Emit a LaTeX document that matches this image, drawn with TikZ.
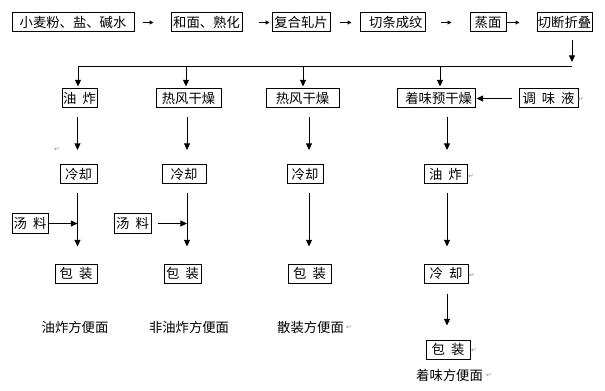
\documentclass[tikz,border=0pt]{standalone}
\usepackage{fontspec}
\newfontfamily\cjk{Noto Sans CJK SC}
\newfontfamily\dvs{DejaVu Sans}
\usetikzlibrary{arrows.meta}
\newcommand\gp{\hspace{4.5pt}}
\begin{document}
\begin{tikzpicture}[x=0.75pt,y=-0.75pt,
 box/.style={draw, line width=0.75pt, inner sep=0pt, minimum height=14.25pt, font=\cjk\fontsize{10}{12}\selectfont},
 bw/.style={minimum width=#1*0.75pt},
 lbl/.style={inner sep=0pt, font=\cjk\fontsize{10}{12}\selectfont},
 arr/.style={line width=0.75pt, -{Triangle[length=5pt,width=4.5pt]}},
 sarr/.style={line width=0.75pt, -{Triangle[length=3pt,width=3pt]}},
 ln/.style={line width=0.75pt},
 pm/.style={inner sep=0pt, text=black!45, font=\dvs\fontsize{5}{6}\selectfont}]
\useasboundingbox (0,0) rectangle (605,391);
\fill[white] (0,0) rectangle (605,391);

% top row
\node[box,bw=122] (a1) at (73,22.5) {小麦粉、盐、碱水};
\node[box,bw=71] (a2) at (206.5,22.5) {和面、熟化};
\node[box,bw=58] (a3) at (301,22.5) {复合轧片};
\node[box,bw=65] (a4) at (392.5,22.5) {\hspace{5pt}切条成纹};
\node[box,bw=36] (a5) at (488,22.5) {蒸面};
\node[box,bw=55] (a6) at (564.5,22.5) {切断折叠};

\draw[sarr, shorten <=6pt, shorten >=12.75pt] (a1.east) -- (a2.west);
\draw[sarr, shorten <=12pt, shorten >=1.5pt] (a2.east) -- (a3.west);
\draw[sarr, shorten <=6.75pt, shorten >=6pt] (a3.east) -- (a4.west);
\draw[sarr, shorten <=11.25pt, shorten >=13.5pt] (a4.east) -- (a5.west);
\draw[sarr, shorten >=12.75pt] (a5.east) -- (a6.west);

% distribution line
\coordinate (hr) at (572,67);
\coordinate (hd) at (572,62);
\coordinate (h1) at (78,67);
\coordinate (h2) at (186,67);
\coordinate (h3) at (303,67);
\coordinate (h4) at (440,67);
\draw[arr, shorten <=6pt] (a6.south -| hr) -- (hd);
\draw[ln] (h1) -- (hr);

% row 2
\node[box,bw=35] (b1) at (79.5,98.5) {油\gp 炸};
\node[box,bw=65] (b2) at (188.5,98.5) {热风干燥};
\node[box,bw=73] (b3) at (302.5,98.5) {热风干燥};
\node[box,bw=78] (b4) at (436,98.5) {\hspace{4pt}着味预干燥};
\node[box,bw=59] (b5) at (548.5,98.5) {调\gp 味\gp 液};

\draw[arr, shorten >=1.5pt] (h1) -- (h1 |- b1.north);
\draw[arr, shorten >=1.5pt] (h2) -- (h2 |- b2.north);
\draw[arr, shorten >=1.5pt] (h3) -- (h3 |- b3.north);
\draw[arr, shorten >=1.5pt] (h4) -- (h4 |- b4.north);
\draw[arr, shorten <=5.25pt, shorten >=0.75pt] (b5.west) -- (b4.east);

% column axes
\coordinate (x1) at (77.5,0);
\coordinate (x2) at (187,0);
\coordinate (x3) at (309,0);
\coordinate (x4) at (447,0);

% row 3
\node[box,bw=37] (c1) at (78.5,174) {冷却};
\node[box,bw=44] (c2) at (184,174) {冷却};
\node[box,bw=36] (c3) at (305,174) {冷却};
\node[box,bw=43] (c4) at (445.5,174) {油\gp 炸};

\draw[arr, shorten <=6.75pt, shorten >=10.5pt] (b1.south -| x1) -- (c1.north -| x1);
\draw[arr, shorten <=6.75pt, shorten >=10.5pt] (b2.south -| x2) -- (c2.north -| x2);
\draw[arr, shorten <=6.75pt, shorten >=10.5pt] (b3.south -| x3) -- (c3.north -| x3);
\draw[arr, shorten <=6.75pt, shorten >=10.5pt] (b4.south -| x4) -- (c4.north -| x4);

% row 4
\node[box,bw=42] (e1) at (76,273.5) {包\gp 装};
\node[box,bw=37] (e2) at (182.5,273.5) {包\gp 装};
\node[box,bw=43] (e3) at (309.5,273.5) {包\gp 装};
\node[box,bw=44] (e4) at (446,273.5) {冷\gp 却};

\draw[arr, shorten <=6.75pt, shorten >=12.75pt] (c1.south -| x1) -- (e1.north -| x1);
\draw[arr, shorten <=6.75pt, shorten >=12.75pt] (c2.south -| x2) -- (e2.north -| x2);
\draw[arr, shorten <=6.75pt, shorten >=12.75pt] (c3.south -| x3) -- (e3.north -| x3);
\draw[arr, shorten <=6.75pt, shorten >=12.75pt] (c4.south -| x4) -- (e4.north -| x4);

% soup packets
\node[box,bw=36] (d1) at (30,223.5) {汤\gp 料};
\node[box,bw=37] (d2) at (132.5,223.5) {汤\gp 料};
\draw[arr] (d1.east) -- (d1.east -| x1);
\draw[arr, shorten <=4.5pt] (d2.east) -- (d2.east -| x2);

% products
\node[lbl] (l1) at (75,327) {油炸方便面};
\node[lbl] (l2) at (189,327) {非油炸方便面};
\node[lbl] (l3) at (310.5,327) {散装方便面};

\node[box,bw=44] (f4) at (448,349.5) {包\gp 装};
\draw[arr, shorten <=7.5pt, shorten >=10.5pt] (e4.south -| x4) -- (f4.north -| x4);
\node[lbl] (l4) at (449.5,375) {着味方便面};

% paragraph marks
\node[pm] (p1) at (57,149) {↵};
\node[pm] (p2) at (581,99) {↵};
\node[pm] (p3) at (471,176) {↵};
\node[pm] (p4) at (472,275) {↵};
\node[pm] (p5) at (349,327) {↵};
\node[pm] (p6) at (474,350) {↵};
\node[pm] (p7) at (489,375) {↵};
\end{tikzpicture}
\end{document}
